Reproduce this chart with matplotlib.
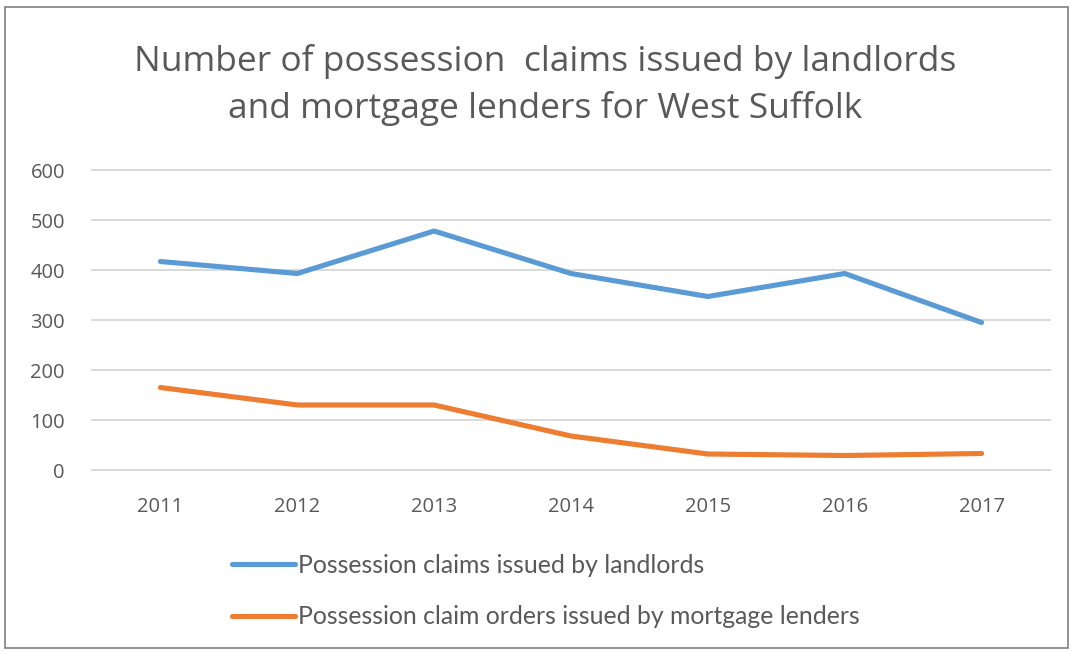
import matplotlib
matplotlib.use("Agg")
import matplotlib.pyplot as plt
from matplotlib.patches import Rectangle

years = ["2011", "2012", "2013", "2014", "2015", "2016", "2017"]
landlords = [417, 393, 478, 393, 347, 393, 295]
mortgage = [165, 130, 130, 68, 32, 29, 33]
yticks = [0, 100, 200, 300, 400, 500, 600]
series_names = ["Possession claims issued by landlords",
                "Possession claim orders issued by mortgage lenders"]
title = "Number of possession  claims issued by landlords\nand mortgage lenders for West Suffolk"

BLUE = "#5B9BD5"
ORANGE = "#ED7D31"
GREY = "#595959"
GRID = "#D9D9D9"

fig = plt.figure(figsize=(10.72, 6.53), dpi=100)
W, H = 1072, 653
ax = fig.add_axes([92 / W, (H - 470) / H, (1050 - 92) / W, 300 / H])

x = list(range(len(years)))
ax.plot(x, landlords, color=BLUE, lw=3.7, solid_capstyle="round", solid_joinstyle="round",
        label=series_names[0], zorder=3)
ax.plot(x, mortgage, color=ORANGE, lw=3.7, solid_capstyle="round", solid_joinstyle="round",
        label=series_names[1], zorder=3)

ax.set_xlim(-0.5, len(years) - 0.5)
ax.set_ylim(0, 600)
ax.set_yticks(yticks)
ax.set_xticks(x)
ax.set_xticklabels(years)
for s in ax.spines.values():
    s.set_visible(False)
ax.grid(axis="y", color=GRID, lw=1.4, zorder=0)
for gl in ax.get_ygridlines():
    gl.set_clip_on(False)
ax.tick_params(axis="both", length=0, colors=GREY, labelsize=14.5)
ax.tick_params(axis="y", pad=19.5)
ax.tick_params(axis="x", pad=19.5)
for lab in ax.get_xticklabels() + ax.get_yticklabels():
    lab.set_fontfamily("Open Sans")

fig.text(545 / W, 1 - 85 / H, title, ha="center", va="center", fontsize=25.5,
         color=GREY, family="Open Sans", linespacing=1.42)

leg = fig.legend(loc="center left", bbox_to_anchor=(210 / W, 1 - 591 / H), frameon=False,
                 handlelength=2.55, handletextpad=0.12, labelspacing=1.17,
                 prop={"family": "Lato", "size": 17.8})
for t in leg.get_texts():
    t.set_color(GREY)

fig.patches.append(Rectangle((5 / W, 5 / H), 1063 / W, 641 / H, transform=fig.transFigure,
                             fill=False, edgecolor="#7F7F7F", lw=1.2))

fig.savefig("out.png", dpi=100, facecolor="white")
